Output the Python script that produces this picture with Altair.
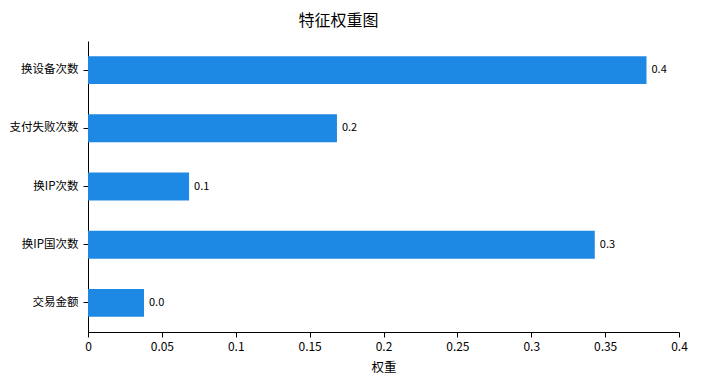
import altair as alt
import pandas as pd

features = ["换设备次数", "支付失败次数", "换IP次数", "换IP国次数", "交易金额"]
weights = [0.378, 0.1685, 0.0684, 0.343, 0.0379]

df = pd.DataFrame({"feature": features, "weight": weights})

FONT = "Noto Sans CJK SC"

base = alt.Chart(df).encode(
    y=alt.Y("feature:N", sort=features, title=None,
            scale=alt.Scale(paddingInner=0.52, paddingOuter=0.26),
            axis=alt.Axis(labelFontSize=11.5, labelColor="#000", domainColor="#000",
                          tickColor="#000", tickSize=5, labelPadding=5,
                          labelFont=FONT, domainWidth=1)),
    x=alt.X("weight:Q", title="权重",
            scale=alt.Scale(domain=[0, 0.4], nice=False),
            axis=alt.Axis(values=[0, 0.05, 0.1, 0.15, 0.2, 0.25, 0.3, 0.35, 0.4],
                          format="~g", grid=False, labelFontSize=12, labelColor="#000",
                          domainColor="#000", tickColor="#000", tickSize=5,
                          labelPadding=4, labelFont=FONT, titleFont=FONT,
                          titleFontSize=12.5, titleFontWeight="normal", titleColor="#000",
                          titlePadding=9, labelFlush=False)),
)

bars = base.mark_bar(color="#1E88E5")
labels = base.mark_text(align="left", dx=5, fontSize=11, font=FONT, color="#000").encode(
    text=alt.Text("weight:Q", format=".1f")
)

chart = (bars + labels).properties(
    width=591, height=291,
    title=alt.TitleParams("特征权重图", fontSize=16, font=FONT, fontWeight="normal",
                          color="#000", anchor="middle", dx=-45, offset=12),
    autosize=alt.AutoSizeParams(type="none"),
    padding={"left": 80, "top": 33, "right": 22, "bottom": 43},
).configure_view(stroke=None)

chart.save("out.html", embed_options={"renderer": "svg", "actions": False})
